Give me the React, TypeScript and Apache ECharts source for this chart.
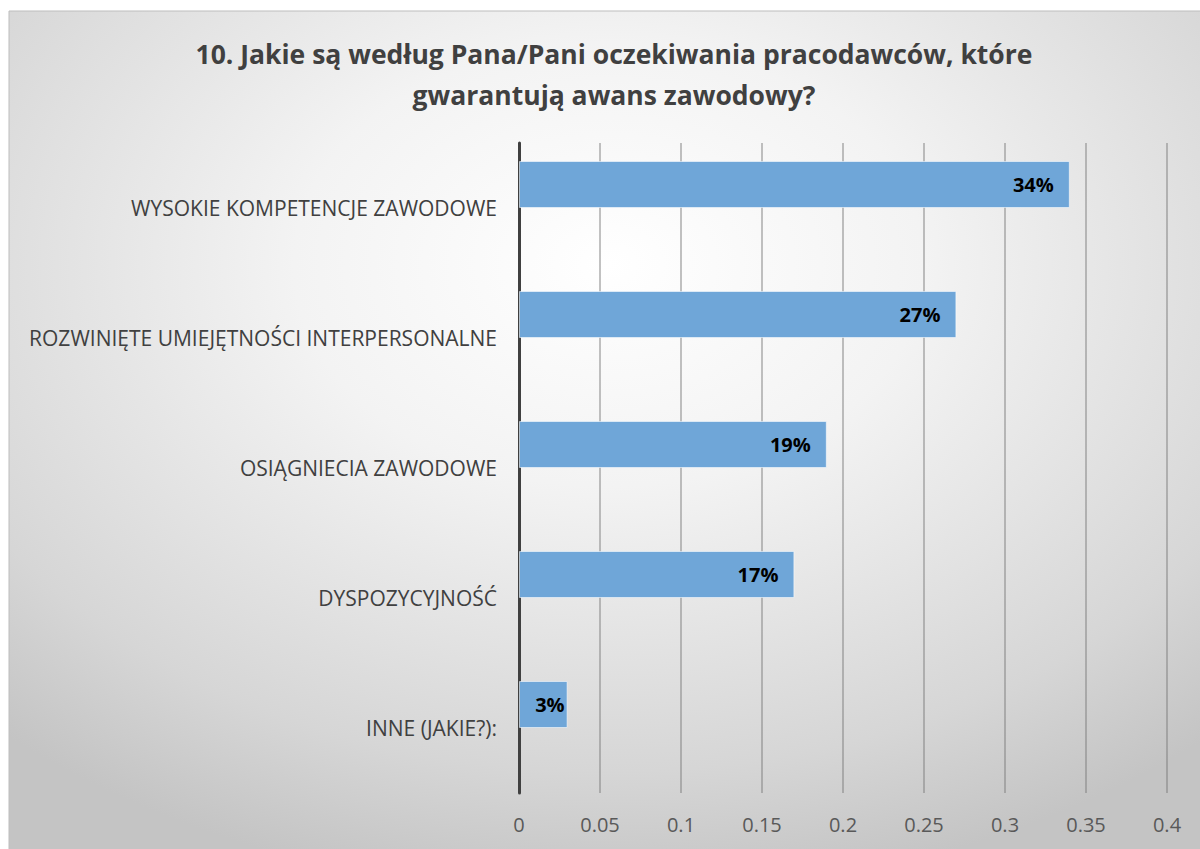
import React, { useEffect, useRef } from "react";
import * as echarts from "echarts";

const titleText = "10. Jakie są według Pana/Pani oczekiwania pracodawców, które\ngwarantują awans zawodowy?";
const categories = [
  "WYSOKIE KOMPETENCJE ZAWODOWE",
  "ROZWINIĘTE UMIEJĘTNOŚCI INTERPERSONALNE",
  "OSIĄGNIECIA ZAWODOWE",
  "DYSPOZYCYJNOŚĆ",
  "INNE (JAKIE?):",
];
const values = [0.34, 0.27, 0.19, 0.17, 0.03];
const emptySeries = [null, null, null, null, null];
const tickValues = [0, 0.05, 0.1, 0.15, 0.2, 0.25, 0.3, 0.35, 0.4];

export default function App() {
  const ref = useRef<HTMLDivElement>(null);
  useEffect(() => {
    if (!ref.current) return;
    const chart = echarts.init(ref.current, undefined, { renderer: "svg" });
    const font = "'Open Sans', 'Noto Sans', sans-serif";
    const barData = values.map((v) =>
      v < 0.05 ? { value: v, label: { distance: 3 } } : { value: v }
    );
    chart.setOption({
      animation: false,
      backgroundColor: "#ffffff",
      graphic: [
        {
          type: "rect",
          z: -10,
          shape: { x: 9, y: 11, width: 1200, height: 845 },
          style: {
            fill: new echarts.graphic.RadialGradient(0.5, 0.3, 0.75, [
              { offset: 0, color: "#ffffff" },
              { offset: 0.35, color: "#f3f3f3" },
              { offset: 0.8, color: "#d6d6d6" },
              { offset: 1, color: "#c4c4c4" },
            ]),
            stroke: "#bdbdbd",
            lineWidth: 1,
          },
          silent: true,
        },
      ],
      title: {
        text: titleText,
        left: 609,
        top: 28,
        textAlign: "center",
        textStyle: {
          fontFamily: font,
          fontSize: 26.5,
          fontWeight: "bold",
          color: "#404040",
          lineHeight: 41,
        },
      },
      grid: { left: 519, right: 33, top: 143, bottom: 56, containLabel: false },
      xAxis: {
        type: "value",
        min: 0,
        max: 0.4,
        interval: 0.05,
        axisLine: { show: false },
        axisTick: { show: false },
        axisLabel: {
          margin: 21,
          fontFamily: font,
          fontSize: 20,
          color: "#595959",
          formatter: (v: number) => {
            const t = tickValues.find((x) => Math.abs(x - v) < 1e-9);
            return String(t !== undefined ? t : v);
          },
        },
        splitLine: { show: true, lineStyle: { color: "rgba(120,120,120,0.45)", width: 2 } },
      },
      yAxis: {
        type: "category",
        data: categories,
        inverse: true,
        axisLine: { show: true, lineStyle: { color: "#404040", width: 3 } },
        axisTick: { show: false },
        axisLabel: {
          margin: 22,
          fontFamily: font,
          fontSize: 21,
          color: "#404040",
        },
        splitLine: { show: false },
      },
      series: [
        {
          type: "bar",
          data: barData,
          barWidth: 47,
          barGap: "0%",
          itemStyle: {
            color: "#6fa6d8",
            borderColor: "rgba(255,255,255,0.55)",
            borderWidth: 1,
          },
          label: {
            show: true,
            position: "insideRight",
            distance: 16,
            fontFamily: font,
            fontSize: 20,
            fontWeight: "bold",
            color: "#000000",
            formatter: (p: any) => Math.round(p.value * 100) + "%",
          },
        },
        {
          type: "bar",
          data: emptySeries,
          barWidth: 47,
          barGap: "0%",
        },
      ],
    });
    return () => chart.dispose();
  }, []);
  return (
    <div
      ref={ref}
      style={{ position: "absolute", left: 0, top: 0, width: 1200, height: 849 }}
    />
  );
}
